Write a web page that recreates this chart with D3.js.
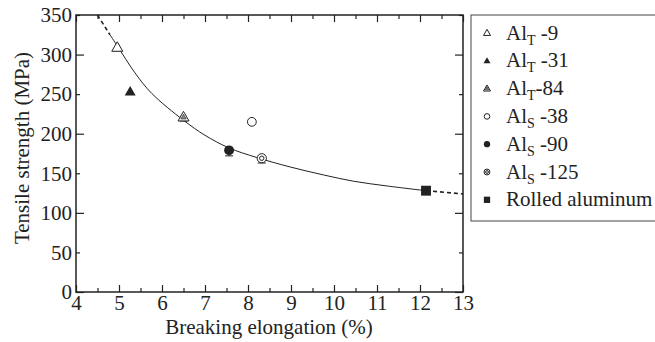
<!DOCTYPE html>
<html><head><meta charset="utf-8">
<script src="https://cdn.jsdelivr.net/npm/d3@7"></script>
<style>
@font-face{font-family:"ChartSerif";src:local("Liberation Serif"),local("LiberationSerif"),local("LiberationSerif-Regular"),local("Times New Roman"),local("Tinos");}
</style>
</head><body style="margin:0">
<svg id="c" width="655" height="342"></svg>
<script>
// ---- data ----
const seriesNames = ["T9","T31","T84","S38","S90","S125","Rolled"];
const elongation = [4.96, 5.26, 6.5, 8.09, 7.56, 8.32, 12.14];
const strength   = [309, 253, 221, 215, 179, 169, 128];
const errLow     = [4, 0, 5, 0, 7, 6, 0];
const legendMain = ["Al","Al","Al","Al","Al","Al","Rolled aluminum"];
const legendSub  = ["T","T","T","S","S","S",""];
const legendTail = [" -9"," -31","-84"," -38"," -90"," -125",""];
// fitted curve
const curveX = [4.79, 4.96, 5.37, 5.76, 6.5, 7.0, 7.56, 8.2, 8.98, 9.75, 10.45, 11.23, 12.14];
const curveY = [325, 311, 277, 251, 217, 198, 182, 170, 158, 148, 140, 134, 128];
const dashLeftX = [4.5, 4.79], dashLeftY = [350, 325];
const dashRightX = [12.14, 13], dashRightY = [128, 124];
const xTicks = [4,5,6,7,8,9,10,11,12,13];
const yTicks = [0,50,100,150,200,250,300,350];

const svg = d3.select("#c");
const x = d3.scaleLinear([4,13],[76,463]);
const y = d3.scaleLinear([0,350],[292,15]);
const ink = "#222";
const FF = '"Liberation Serif", ChartSerif';

function txt(sel){return sel.attr("fill",ink).attr("font-size",21).style("font-family",FF);}

// axes
const xMinor = d3.range(4.5,13,1);
const yMinor = [50,150,250,350];
const yMajor = [0,100,200,300];
function styleAx(g){g.select(".domain").remove();g.selectAll("line").attr("stroke",ink).attr("stroke-width",1.2);txt(g.selectAll("text"));}
svg.append("g").attr("transform","translate(0,292)").call(d3.axisBottom(x).tickValues(xTicks).tickFormat(d3.format("d")).tickSize(-7).tickPadding(3)).call(styleAx);
svg.append("g").attr("transform","translate(0,292)").call(d3.axisBottom(x).tickValues(xMinor).tickFormat("").tickSize(-4)).call(styleAx);
svg.append("g").attr("transform","translate(0,15)").call(d3.axisTop(x).tickValues(xTicks).tickFormat("").tickSize(-7)).call(styleAx);
svg.append("g").attr("transform","translate(0,15)").call(d3.axisTop(x).tickValues(xMinor).tickFormat("").tickSize(-4)).call(styleAx);
svg.append("g").attr("transform","translate(76,0)").call(d3.axisLeft(y).tickValues(yTicks).tickFormat(d3.format("d")).tickSize(0).tickPadding(4)).call(styleAx);
svg.append("g").attr("transform","translate(76,0)").call(d3.axisLeft(y).tickValues(yMajor).tickFormat("").tickSize(-8)).call(styleAx);
svg.append("g").attr("transform","translate(76,0)").call(d3.axisLeft(y).tickValues(yMinor).tickFormat("").tickSize(-4)).call(styleAx);
svg.append("g").attr("transform","translate(463,0)").call(d3.axisRight(y).tickValues(yMajor).tickFormat("").tickSize(-8)).call(styleAx);
svg.append("g").attr("transform","translate(463,0)").call(d3.axisRight(y).tickValues(yMinor).tickFormat("").tickSize(-4)).call(styleAx);
svg.append("rect").attr("x",x(4)).attr("y",y(350)).attr("width",x(13)-x(4)).attr("height",y(0)-y(350)).attr("fill","none").attr("stroke",ink).attr("stroke-width",1.5);

// labels
txt(svg.append("text").attr("x",269).attr("y",334).attr("text-anchor","middle")).text("Breaking elongation (%)");
txt(svg.append("text").attr("transform","translate(29,148) rotate(-90)").attr("text-anchor","middle")).text("Tensile strength  (MPa)");

// curve
const line = d3.line().x(d=>x(d[0])).y(d=>y(d[1])).curve(d3.curveCatmullRom);
svg.append("path").attr("d",line(d3.zip(curveX,curveY))).attr("fill","none").attr("stroke",ink).attr("stroke-width",1);
[[dashLeftX,dashLeftY],[dashRightX,dashRightY]].forEach(([a,b])=>{
  svg.append("path").attr("d",line(d3.zip(a,b))).attr("fill","none").attr("stroke",ink).attr("stroke-width",1.6).attr("stroke-dasharray","4,3");
});

// markers
function tri(s){const h=s*0.87;return `M0,${-h*0.6}L${s/2},${h*0.4}L${-s/2},${h*0.4}Z`;}
function drawMarker(g,name,s){
  if(name==="T9") g.append("path").attr("d",tri(s)).attr("fill","#fff").attr("stroke",ink).attr("stroke-width",1);
  else if(name==="T31") g.append("path").attr("d",tri(s)).attr("fill",ink);
  else if(name==="T84"){g.append("path").attr("d",tri(s)).attr("fill","#fff").attr("stroke",ink).attr("stroke-width",1);
    g.append("path").attr("d",tri(s*0.5)).attr("fill","#888").attr("stroke",ink).attr("stroke-width",0.6);}
  else if(name==="S38") g.append("circle").attr("r",s*0.4).attr("fill","#fff").attr("stroke",ink).attr("stroke-width",1);
  else if(name==="S90") g.append("circle").attr("r",s*0.45).attr("fill",ink);
  else if(name==="S125"){g.append("circle").attr("r",s*0.42).attr("fill","#fff").attr("stroke",ink).attr("stroke-width",1);
    g.append("circle").attr("r",s*0.2).attr("fill","#fff").attr("stroke",ink).attr("stroke-width",1);}
  else if(name==="Rolled") g.append("rect").attr("x",-s*0.45).attr("y",-s*0.45).attr("width",s*0.9).attr("height",s*0.9).attr("fill",ink);
}
seriesNames.forEach((n,i)=>{
  const cx=x(elongation[i]), cy=y(strength[i]);
  if(errLow[i]>0){
    const yb=y(strength[i]-errLow[i]);
    svg.append("line").attr("x1",cx).attr("x2",cx).attr("y1",cy).attr("y2",yb).attr("stroke",ink).attr("stroke-width",1);
    svg.append("line").attr("x1",cx-4).attr("x2",cx+4).attr("y1",yb).attr("y2",yb).attr("stroke",ink).attr("stroke-width",1);
  }
  drawMarker(svg.append("g").attr("transform",`translate(${cx},${cy})`),n,11);
});

// legend
svg.append("rect").attr("x",471).attr("y",15).attr("width",200).attr("height",206).attr("fill","#fff").attr("stroke","#444").attr("stroke-width",1);
seriesNames.forEach((n,i)=>{
  const cy=33+i*27.8;
  drawMarker(svg.append("g").attr("transform",`translate(487,${cy})`),n,7);
  const t=txt(svg.append("text").attr("x",506).attr("y",cy+6.5));
  t.append("tspan").text(legendMain[i]);
  if(legendSub[i]){
    t.append("tspan").attr("dy",5).attr("font-size",14).text(legendSub[i]);
    t.append("tspan").attr("dy",-5).text(legendTail[i]);
  }
});
</script></body></html>
